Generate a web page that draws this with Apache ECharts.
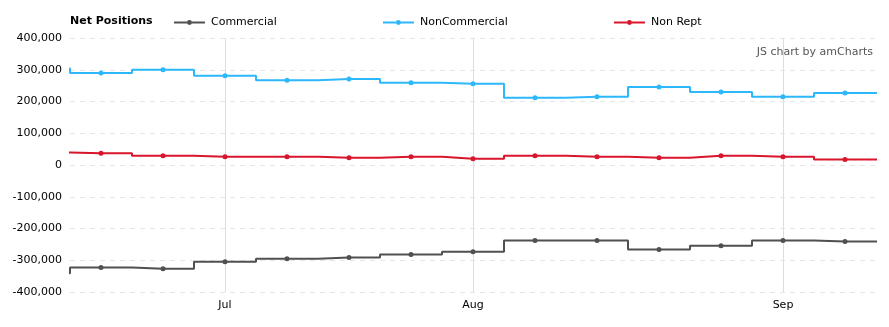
<!DOCTYPE html>
<html>
<head>
<meta charset="utf-8">
<script src="https://cdn.jsdelivr.net/npm/echarts@6/dist/echarts.min.js"></script>
<style>
html,body{margin:0;padding:0;background:#fff;}
#chart{width:889px;height:327px;}
</style>
</head>
<body>
<div id="chart"></div>
<script>
// Weekly report dates (first one lies just left of the visible range)
var dates = ['2016-06-14','2016-06-21','2016-06-28','2016-07-05','2016-07-12','2016-07-19','2016-07-26',
             '2016-08-02','2016-08-09','2016-08-16','2016-08-23','2016-08-30','2016-09-06','2016-09-13'];
var commercial    = [-341000,-323000,-327000,-305000,-295000,-291000,-282000,-273000,-238000,-238000,-266000,-254000,-238000,-241000];
var nonCommercial = [ 304000, 290000, 300000, 281000, 267000, 271000, 259000, 256000, 212000, 215000, 246000, 230000, 215000, 227000];
var nonRept       = [  39000,  37000,  29000,  26000,  26000,  23000,  26000,  20000,  29000,  26000,  23000,  29000,  26000,  17000];
var seriesNames = ['Commercial','NonCommercial','Non Rept'];
var seriesColors = ['#505050','#2db8fb','#d9152c'];
var monthNames = ['Jan','Feb','Mar','Apr','May','Jun','Jul','Aug','Sep','Oct','Nov','Dec'];
var yTicks = [-400000,-300000,-200000,-100000,0,100000,200000,300000,400000];

var FONT = 'DejaVu Sans';
// indices of first report in each month (after the first month)
var monthStarts = [];
for (var i = 1; i < dates.length; i++) {
  if (dates[i].slice(5,7) !== dates[i-1].slice(5,7)) monthStarts.push(i);
}
function pairs(arr){
  var out = arr.map(function(v,i){return [i,v];});
  out.push([arr.length, arr[arr.length-1]]); // step tail to the plot edge
  return out;
}
function fmt(v){ return v.toString().replace(/\B(?=(\d{3})+(?!\d))/g, ','); }

var allData = [commercial, nonCommercial, nonRept];
var series = allData.map(function(arr, k){
  var s = {
    name: seriesNames[k],
    type: 'line',
    step: 'middle',
    data: pairs(arr),
    symbol: 'circle',
    symbolSize: 5,
    showAllSymbol: true,
    clip: true,
    color: seriesColors[k],
    lineStyle: {width: 2, color: seriesColors[k]},
    itemStyle: {color: seriesColors[k]},
    z: 3
  };
  if (k === 0) {
    s.markLine = {
      silent: true, symbol: 'none', label: {show:false}, animation: false,
      lineStyle: {color:'#dedede', width:1, type:'solid'},
      data: monthStarts.map(function(m){return {xAxis: m};}),
      z: 1
    };
  }
  return s;
});

// legend icon: a line with a small dot in the middle
var legendIcon = 'path://M0,3.4 L13.2,3.4 L13.2,5.6 L0,5.6 Z M17.8,3.4 L31,3.4 L31,5.6 L17.8,5.6 Z M13,4.5 A2.5,2.5 0 1 0 18,4.5 A2.5,2.5 0 1 0 13,4.5 Z M0,2 L0.01,2 L0.01,2.01 Z M0,7 L0.01,7 L0.01,7.01 Z';
var legendLefts = [174, 383, 614];
var legends = seriesNames.map(function(n, k){
  return {
    data: [{name: n, icon: legendIcon}], left: legendLefts[k], top: 17, padding: 0,
    itemWidth: 31, itemHeight: 5, itemGap: 6,
    textStyle: {fontFamily: FONT, fontSize: 11, color: '#000', padding: [0,0,0,1]},
    selectedMode: false
  };
});

var chart = echarts.init(document.getElementById('chart'), null, {renderer:'canvas'});
chart.setOption({
  animation: false,
  backgroundColor: '#fff',
  title: {text: 'Net Positions', left: 70, top: 16, padding: 0,
    textStyle: {fontFamily: FONT, fontSize: 11, fontWeight: 'bold', color: '#000'}},
  legend: legends,
  graphic: [{type:'text', right: 16, top: 47,
    style: {text: 'JS chart by amCharts', fontFamily: FONT, fontSize: 11, fill: '#555'}}],
  grid: {left: 70, right: 13, top: 38, bottom: 35},
  xAxis: {
    type: 'value', min: 0.5, max: dates.length - 0.5,
    axisLine: {show:false}, axisTick: {show:false}, splitLine: {show:false},
    axisLabel: {
      customValues: monthStarts, margin: 8,
      fontFamily: FONT, fontSize: 11, color: '#000',
      formatter: function(v){ var d = dates[Math.round(v)]; return d ? monthNames[parseInt(d.slice(5,7),10)-1] : ''; }
    }
  },
  yAxis: {
    type: 'value', min: yTicks[0], max: yTicks[yTicks.length-1], interval: yTicks[1]-yTicks[0],
    axisLine: {show:false}, axisTick: {show:false},
    axisLabel: {margin: 8, fontFamily: FONT, fontSize: 11, color: '#000', formatter: fmt},
    splitLine: {show:true, lineStyle: {color:'#e6e6e6', type:[5,5], width:1}}
  },
  series: series
});
</script>
</body>
</html>
